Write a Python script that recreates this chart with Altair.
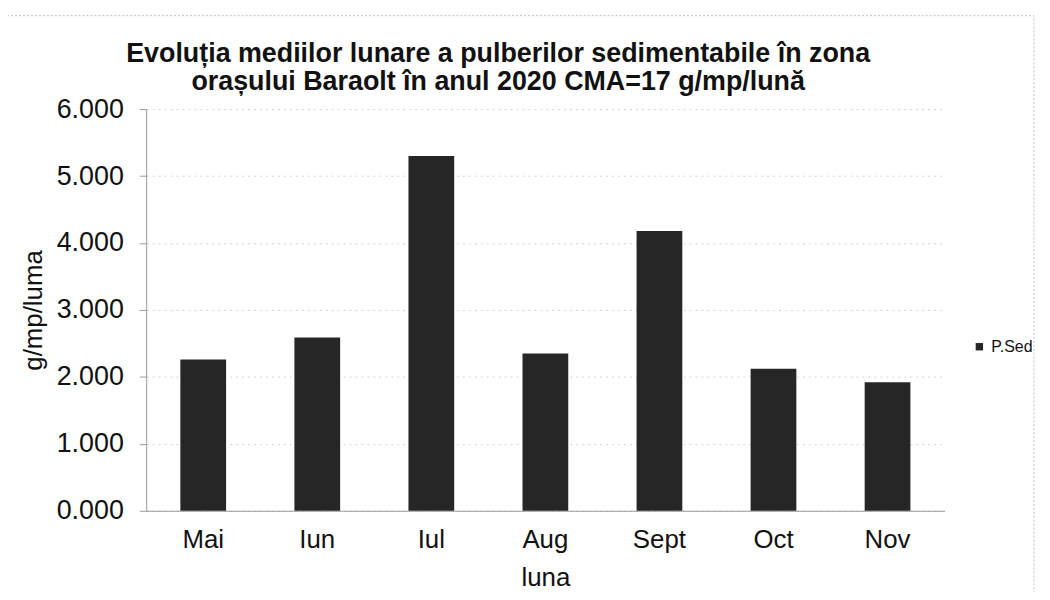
import altair as alt
import pandas as pd

months = ["Mai", "Iun", "Iul", "Aug", "Sept", "Oct", "Nov"]
values = [2.26, 2.59, 5.30, 2.35, 4.18, 2.12, 1.92]
series = ["P.Sed"] * len(months)
title_lines = ["Evoluția mediilor lunare a pulberilor sedimentabile în zona",
               "orașului Baraolt în anul 2020 CMA=17 g/mp/lună"]

df = pd.DataFrame({"luna": months, "val": values, "serie": series})

FONT = "Liberation Sans"

bars = alt.Chart(df).mark_bar(size=46).encode(
    x=alt.X("luna:N", sort=months, title="luna",
            scale=alt.Scale(paddingInner=0.0, paddingOuter=0.0),
            axis=alt.Axis(labelAngle=0, labelFontSize=26, titleFontSize=26,
                          labelFont=FONT, titleFont=FONT,
                          labelColor="#111", titleColor="#111", titleFontWeight="normal",
                          ticks=False, domain=True, domainColor="#9a9a9a",
                          labelPadding=16, titlePadding=12)),
    y=alt.Y("val:Q", title="g/mp/luma",
            scale=alt.Scale(domain=[0, 6]),
            axis=alt.Axis(values=[0, 1, 2, 3, 4, 5, 6], format=".3f",
                          labelFontSize=27, titleFontSize=26,
                          labelFont=FONT, titleFont=FONT,
                          labelColor="#111", titleColor="#111", titleFontWeight="normal",
                          tickColor="#9a9a9a", tickSize=7, domainColor="#9a9a9a",
                          grid=True, gridColor="#d4d4d4", gridDash=[2, 4],
                          labelPadding=16, titlePadding=10)),
    color=alt.Color("serie:N", scale=alt.Scale(range=["#262626"]),
                    legend=alt.Legend(title=None, orient="none", legendX=830, legendY=231,
                                      symbolType="square", symbolSize=55,
                                      labelFontSize=16, labelFont=FONT, labelLimit=0,
                                      labelColor="#111")),
)

border = alt.Chart(df).mark_rect(fill=None, stroke="#b8c8b0", strokeWidth=1,
                                  strokeDash=[2, 2]).encode(
    x=alt.value(-140), x2=alt.value(893), y=alt.value(-94), y2=alt.value(488)
).transform_filter(alt.datum.luna == "Mai")

t1 = alt.Chart(df).mark_text(font=FONT, fontSize=27, fontWeight="bold", color="#111",
                             align="center", baseline="alphabetic").encode(
    x=alt.value(354), y=alt.value(-47), text=alt.value(title_lines[0])
).transform_filter(alt.datum.luna == "Mai")

t2 = alt.Chart(df).mark_text(font=FONT, fontSize=27, fontWeight="bold", color="#111",
                             align="center", baseline="alphabetic").encode(
    x=alt.value(354), y=alt.value(-19), text=alt.value(title_lines[1])
).transform_filter(alt.datum.luna == "Mai")

chart = alt.layer(border, bars, t1, t2).properties(
    width=803, height=404,
    background="white",
    autosize=alt.AutoSizeParams(type="none"),
    padding={"left": 139, "top": 100, "right": 98, "bottom": 80},
).configure_view(stroke=None)

chart.save("out.html", embed_options={"renderer": "svg", "actions": False})
